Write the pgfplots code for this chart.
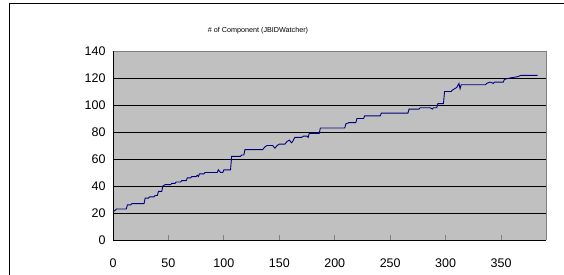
\documentclass[border=0pt]{standalone}
\usepackage{pgfplots}
\pgfplotsset{compat=1.18}
\usepackage{fontspec}
\setmainfont{Liberation Sans}
\definecolor{plotgray}{HTML}{C0C0C0}
\definecolor{bordergray}{HTML}{808080}
\definecolor{navyline}{HTML}{000080}
\begin{document}
\begin{tikzpicture}[x=1pt,y=1pt]
\begin{axis}[
  at={(0pt,0pt)}, anchor=origin,
  scale only axis,
  width=433pt, height=189pt,
  xmin=0, xmax=390.5, ymin=0, ymax=140,
  xtick={0,50,...,350},
  ytick={0,20,...,140},
  ymajorgrids,
  grid style={black, line width=0.8pt},
  axis background/.style={fill=plotgray},
  axis line style={draw=none},
  x tick style={draw=bordergray, line width=0.8pt},
  y tick style={draw=black, line width=0.8pt},
  tick align=inside,
  major tick length=5pt,
  xtick pos=bottom, ytick pos=left,
  /pgf/number format/assume math mode=true,
  tick label style={font=\fontsize{12.5}{14}\selectfont},
  xticklabel style={anchor=center, yshift=-23pt},
  yticklabel style={anchor=east, xshift=-4pt},
  clip=false,
]
\draw[bordergray, line width=0.8pt] (rel axis cs:0,1) -- (rel axis cs:1,1) -- (rel axis cs:1,0);
\draw[black, line width=0.8pt] (rel axis cs:0,1) -- (rel axis cs:0,0) -- (rel axis cs:1,0);
\addplot[navyline, line width=0.9pt, mark=none] coordinates {
(0,21) (2,22) (3,23) (12,23) (13,26) (16,26) (17,27) (28,27) (29,31) (32,31)
(33,32) (37,32) (38,33) (40,33) (41,36) (44,36) (45,40) (47,41) (52,41) (53,42)
(56,42) (57,43) (61,43) (62,44) (66,44) (67,46) (70,46) (71,47) (75,47) (76,48)
(77,47) (78,49) (82,49) (83,50) (94,50) (95,52) (97,50) (99,50) (100,52) (106,52)
(107,62) (115,62) (116,63) (118,63) (119,67) (135,67) (137,69) (139,70) (144,70)
(146,68) (148,70) (150,71) (155,71) (157,73) (159,74) (161,72) (162,73) (164,76)
(170,76) (172,77) (175,77) (176,76) (177,79) (186,79) (187,83) (209,83) (210,86)
(213,87) (219,87) (220,90) (226,90) (227,92) (241,92) (242,94) (266,94) (267,97)
(276,97) (277,98) (286,98) (288,97) (289,98) (292,98) (293,101) (298,101) (299,110)
(305,110) (306,111) (310,113) (312,116) (313,112) (314,115) (336,115) (337,116)
(340,117) (343,116) (344,117) (352,117) (353,119) (358,120) (365,121) (368,122) (383,122)
};
\end{axis}
\node[font=\fontsize{7.2}{8}\selectfont] at (145pt,209pt) {\# of Component (JBIDWatcher)};
\draw[black, line width=1pt] (-103pt,-60pt) -- (-103pt,237pt) -- (470pt,237pt);
\pgfresetboundingbox
\path[use as bounding box] (-113pt,-34pt) rectangle (451pt,240pt);
\end{tikzpicture}
\end{document}
